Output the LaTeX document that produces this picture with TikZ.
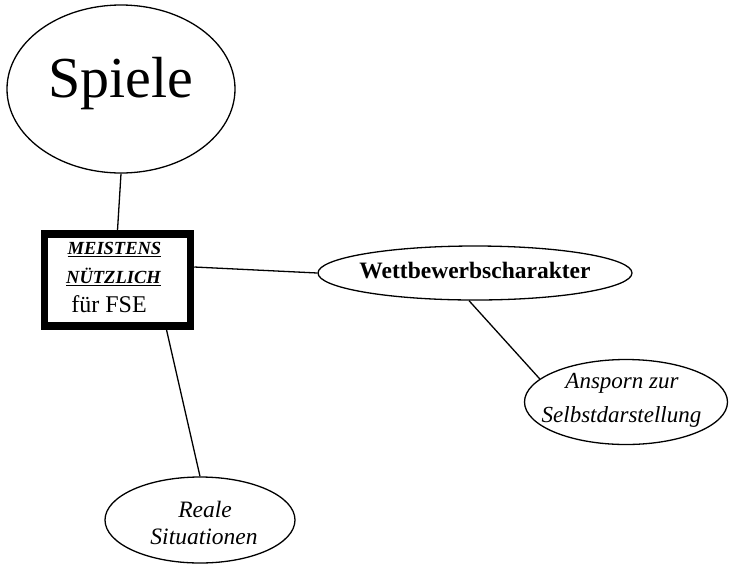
\documentclass[tikz,border=0pt]{standalone}
\usepackage{fontspec}
\setmainfont{Liberation Serif}
\usetikzlibrary{shapes.geometric}
\newcommand\thickul[1]{\setbox0\hbox{#1}\rlap{\raisebox{-3.2pt}{\rule{\wd0}{1.4pt}}}\box0}
\tikzset{
  oval/.style={draw, ellipse, line width=1.3pt, inner sep=0pt},
  framebox/.style={draw, rectangle, line width=7.5pt, inner sep=0pt,
    minimum width=146pt, minimum height=92pt},
  txt/.style={anchor=base, inner sep=0pt},
  conn/.style={line width=1.3pt}
}
\begin{document}
\begin{tikzpicture}[x=1pt,y=-1pt]
\useasboundingbox (0,0) rectangle (731,566);
% Spiele
\node[oval, minimum width=228pt, minimum height=168pt] (spiele) at (121,89) {};
\node[txt, font=\fontsize{58}{60}\selectfont] (spieletext) at (120.5,97) {Spiele};
% box
\node[framebox] (box) at (117.5,280) {};
\node[txt, font=\fontsize{18.5}{20}\selectfont\bfseries\itshape] (t1) at (114.5,254) {\thickul{MEISTENS}};
\node[txt, font=\fontsize{18.5}{20}\selectfont\bfseries\itshape] (t2) at (113.5,283) {\thickul{NÜTZLICH}};
\node[txt, font=\fontsize{24}{26}\selectfont] (t3) at (109,312) {für FSE};
% Wettbewerbscharakter
\node[oval, minimum width=314pt, minimum height=54pt] (wett) at (475,273) {};
\node[txt, font=\fontsize{23.5}{26}\selectfont\bfseries] (wetttext) at (475,278) {Wettbewerbscharakter};
% Ansporn
\node[oval, minimum width=203pt, minimum height=85pt] (ansp) at (626,402) {};
\node[txt, font=\fontsize{23}{26}\selectfont\itshape] (a1) at (622,388) {Ansporn zur};
\node[txt, font=\fontsize{23}{26}\selectfont\itshape] (a2) at (621.5,422) {Selbstdarstellung};
% Reale
\node[oval, minimum width=190pt, minimum height=86pt] (reale) at (200,520) {};
\node[txt, font=\fontsize{23.5}{26}\selectfont\itshape] (r1) at (205,517) {Reale};
\node[txt, font=\fontsize{23.5}{26}\selectfont\itshape] (r2) at (204,544) {Situationen};
% connectors
\draw[conn] (spiele.south) -- (box.north);
\draw[conn] ([yshift=13pt]box.east) -- (wett.west);
\draw[conn] ([xshift=-6pt]wett.south) -- (ansp.165);
\draw[conn] ([xshift=49pt]box.south) -- (reale.north);
\end{tikzpicture}
\end{document}
